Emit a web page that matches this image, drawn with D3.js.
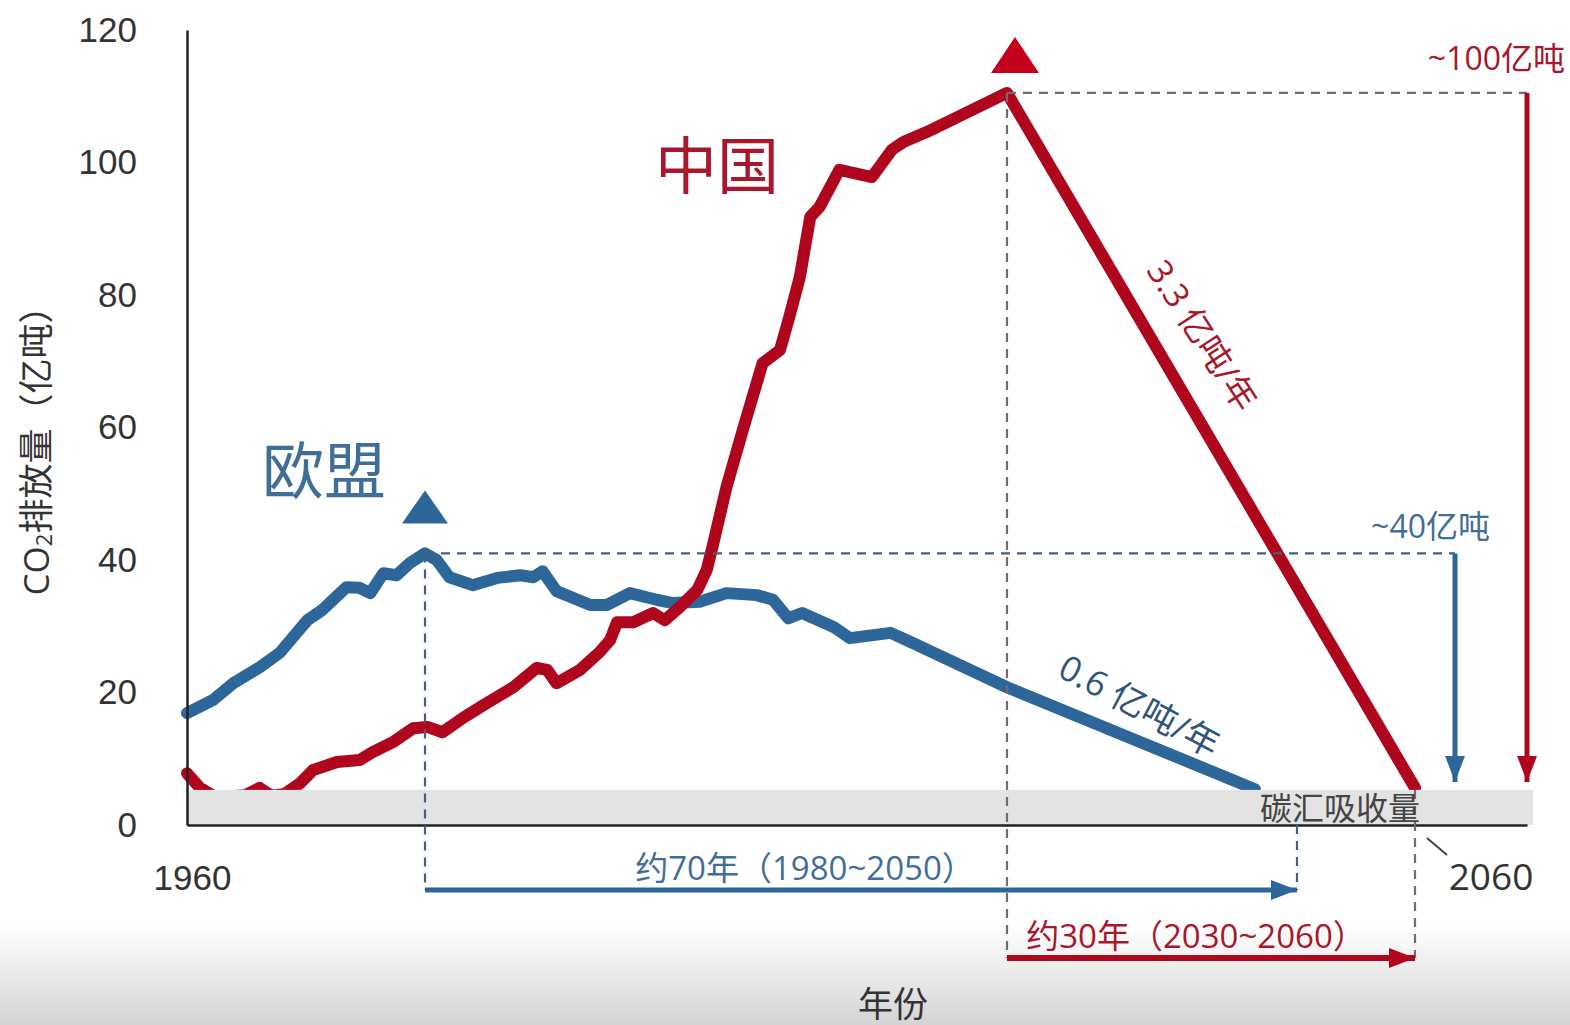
<!DOCTYPE html>
<html>
<head>
<meta charset="utf-8">
<title>中国与欧盟碳达峰到碳中和路径</title>
<script src="https://d3js.org/d3.v7.min.js"></script>
<style>
  html, body { margin: 0; padding: 0; background: #fff; overflow: hidden; }
  svg { display: block; font-family: "Open Sans", "Noto Sans CJK SC", sans-serif; }
  .axis .tick text { font-size: 35px; fill: #333; }
  .axis path { stroke: #222; stroke-width: 2.5px; }
</style>
</head>
<body>
<svg id="chart" width="1570" height="1025"></svg>
<script>
// ---- data (亿吨 CO2 per year) ----
const euYears = [1960, 1962.2, 1963.9, 1966.1, 1967.8, 1970.1, 1971.4, 1973.4, 1974.5, 1975.4,
  1976.5, 1977.6, 1978.7, 1980, 1981, 1982.1, 1984.1, 1986.2, 1988.2, 1989.3,
  1990.1, 1991.3, 1994.2, 1995.6, 1997.6, 1999.9, 2001.3, 2003.6, 2005.9, 2008.5,
  2009.9, 2011.2, 2012.4, 2015.1, 2016.5, 2020, 2021.4, 2030, 2047.1];
const euValues = [16.9, 18.9, 21.4, 23.8, 26.0, 30.9, 32.5, 35.9, 35.8, 35.0,
  38.0, 37.7, 39.5, 41.0, 40.0, 37.4, 36.2, 37.3, 37.7, 37.4,
  38.3, 35.3, 33.2, 33.2, 35.0, 34.0, 33.5, 33.7, 35.0, 34.7,
  34.0, 31.2, 32.0, 29.9, 28.2, 29.0, 27.9, 20.8, 5.4];

const cnYears = [1960, 1961.1, 1962.4, 1964.9, 1966.1, 1967.1, 1968.2, 1969.5, 1970.6, 1972.6,
  1974.5, 1975.6, 1977.3, 1979, 1980.2, 1981.5, 1983.3, 1985.3, 1987.6, 1989.6,
  1990.5, 1991.3, 1993.3, 1995, 1995.9, 1996.5, 1997.9, 1999.6, 2000.6, 2001.9,
  2003.4, 2004.2, 2004.7, 2005.9, 2007.3, 2009, 2010.5, 2011.3, 2012.2, 2013.1,
  2013.9, 2015.6, 2018.4, 2020.1, 2021.1, 2023.1, 2030, 2060];
const cnValues = [7.8, 5.6, 4.2, 4.5, 5.6, 4.4, 4.7, 6.3, 8.3, 9.5,
  9.8, 11.0, 12.5, 14.6, 14.8, 14.0, 16.2, 18.4, 20.8, 23.7,
  23.4, 21.4, 23.4, 26.1, 27.9, 30.6, 30.6, 32.0, 30.9, 32.9,
  35.5, 38.5, 42.0, 51.0, 59.6, 69.7, 71.7, 76.7, 82.7, 91.8,
  93.3, 98.9, 97.8, 101.9, 103.1, 104.6, 110.5, 5.6];

const yTicks = [0, 20, 40, 60, 80, 100, 120];
const xTicks = [1960];
const sinkValue = 5.3;            // 碳汇吸收量
const euSpan = [1980, 2050];      // 约70年
const cnSpan = [2030, 2060];      // 约30年

// ---- colours ----
const EU = "#2d6698", EU_TXT = "#3f6e98", CN = "#b0061d", CN_TXT = "#a8172c";
const DASH_EU = "#46607c", DASH_CN = "#7d6670";

const svg = d3.select("#chart");

const x = d3.scaleLinear()
  .domain([1960, 1980, 2030, 2050, 2060, 2070])
  .range([187, 425, 1007, 1297, 1415, 1527]);
const y = d3.scaleLinear().domain([0, 120]).range([825, 30]);

// bottom haze of the original frame
const defs = svg.append("defs");
const grad = defs.append("linearGradient").attr("id", "haze").attr("x1", 0).attr("x2", 0).attr("y1", 0).attr("y2", 1);
grad.append("stop").attr("offset", "0%").attr("stop-color", "#fff");
grad.append("stop").attr("offset", "100%").attr("stop-color", "#d4d4d4");
svg.append("rect").attr("x", 0).attr("y", 925).attr("width", 1570).attr("height", 100).attr("fill", "url(#haze)");

function arrowMarker(id, color, len, wid) {
  defs.append("marker").attr("id", id)
    .attr("markerUnits", "userSpaceOnUse")
    .attr("viewBox", `0 ${-wid / 2} ${len} ${wid}`)
    .attr("refX", len).attr("refY", 0)
    .attr("markerWidth", len).attr("markerHeight", wid)
    .attr("orient", "auto")
    .append("path").attr("d", `M0,${-wid / 2}L${len},0L0,${wid / 2}Z`).attr("fill", color);
}
arrowMarker("arrEU", EU, 26, 20);
arrowMarker("arrCN", CN, 26, 20);

const line = d3.line().x(d => x(d[0])).y(d => y(d[1]));
const euData = d3.zip(euYears, euValues);
const cnData = d3.zip(cnYears, cnValues);

const euPeak = euData[d3.maxIndex(euValues)];
const cnPeak = cnData[d3.maxIndex(cnValues)];

// ---- series ----
svg.append("path").datum(euData).attr("d", line)
  .attr("fill", "none").attr("stroke", EU).attr("stroke-width", 12)
  .attr("stroke-linejoin", "round").attr("stroke-linecap", "round");
svg.append("path").datum(cnData).attr("d", line)
  .attr("fill", "none").attr("stroke", CN).attr("stroke-width", 12)
  .attr("stroke-linejoin", "round").attr("stroke-linecap", "round");

// carbon sink band sits over the lines
svg.append("rect")
  .attr("x", x(1960)).attr("y", y(sinkValue))
  .attr("width", x(2070) - x(1960) + 6).attr("height", y(0) - y(sinkValue))
  .attr("fill", "#e3e3e3");

// ---- axes ----
svg.append("g").attr("class", "axis").attr("transform", `translate(${x(1960)},0)`)
  .call(d3.axisLeft(y).tickValues(yTicks).tickSize(0).tickPadding(50));
svg.append("g").attr("class", "axis").attr("transform", `translate(0,${y(0)})`)
  .call(d3.axisBottom(x).tickValues(xTicks).tickSize(0).tickPadding(40).tickFormat(d3.format("d")))
  .selectAll(".tick text").attr("dx", 5).attr("font-size", 37);

// ---- guide lines ----
const ARROW_EU_X = 1455, ARROW_CN_X = 1527, SPAN_EU_Y = 890, SPAN_CN_Y = 958;

function dashed(x1, y1, x2, y2, color) {
  svg.append("line").attr("x1", x1).attr("y1", y1).attr("x2", x2).attr("y2", y2)
    .attr("stroke", color).attr("stroke-width", 2.2).attr("stroke-dasharray", "9,7");
}
dashed(x(euPeak[0]), y(euPeak[1]), ARROW_EU_X, y(euPeak[1]), DASH_EU);
dashed(x(euPeak[0]), y(euPeak[1]), x(euPeak[0]), SPAN_EU_Y, DASH_EU);
dashed(x(euSpan[1]), y(0), x(euSpan[1]), SPAN_EU_Y, DASH_EU);
dashed(x(cnPeak[0]), y(cnPeak[1]), ARROW_CN_X, y(cnPeak[1]), DASH_CN);
dashed(x(cnPeak[0]), y(cnPeak[1]), x(cnPeak[0]), SPAN_CN_Y, DASH_CN);
dashed(x(cnSpan[1]), y(sinkValue), x(cnSpan[1]), SPAN_CN_Y, DASH_CN);

// ---- arrows ----
function arrow(x1, y1, x2, y2, color, marker, w) {
  svg.append("line").attr("x1", x1).attr("y1", y1).attr("x2", x2).attr("y2", y2)
    .attr("stroke", color).attr("stroke-width", w).attr("marker-end", `url(#${marker})`);
}
arrow(x(euSpan[0]), SPAN_EU_Y, x(euSpan[1]), SPAN_EU_Y, EU, "arrEU", 5);
arrow(x(cnSpan[0]), SPAN_CN_Y, x(cnSpan[1]), SPAN_CN_Y, CN, "arrCN", 6);
arrow(ARROW_EU_X, y(euPeak[1]), ARROW_EU_X, y(sinkValue) - 8, EU, "arrEU", 5);
arrow(ARROW_CN_X, y(cnPeak[1]), ARROW_CN_X, y(sinkValue) - 8, CN, "arrCN", 5);

// ---- peak triangles ----
function triangle(cx, baseY, w, h, color) {
  svg.append("path")
    .attr("d", `M${cx - w / 2},${baseY}L${cx},${baseY - h}L${cx + w / 2},${baseY}Z`)
    .attr("fill", color);
}
triangle(x(euPeak[0]), y(euPeak[1]) - 30, 46, 33, EU);
triangle(x(cnPeak[0]) + 8, y(cnPeak[1]) - 20, 48, 36, "#c5001c");

// ---- text ----
function label(txt, px, py, size, color, anchor = "start", rot = 0) {
  return svg.append("text")
    .attr("transform", `translate(${px},${py}) rotate(${rot})`)
    .attr("text-anchor", anchor).attr("dominant-baseline", "central")
    .attr("font-size", size).attr("fill", color).text(txt);
}
label("欧盟", 262, 470, 62, EU_TXT);
label("中国", 655, 165, 62, CN_TXT);
label("3.3 亿吨/年", 1203, 335, 34, CN_TXT, "middle", 57);
label("0.6 亿吨/年", 1140, 705, 35, "#2f557a", "middle", 28);
label("~100亿吨", 1565, 57, 32, CN_TXT, "end");
label("~40亿吨", 1490, 525, 32, EU_TXT, "end");
label("碳汇吸收量", 1420, 807, 32, "#444", "end");
label("约70年（1980~2050）", 805, 867, 33, EU_TXT, "middle");
label("约30年（2030~2060）", 1196, 935, 33, CN_TXT, "middle");
label("年份", 893, 1003, 35, "#333", "middle");
label("2060", 1491, 875, 37, "#333", "middle");
svg.append("line").attr("x1", 1427).attr("y1", 838).attr("x2", 1447).attr("y2", 855)
  .attr("stroke", "#444").attr("stroke-width", 2);

const yTitle = svg.append("text")
  .attr("transform", "translate(35,442) rotate(-90)")
  .attr("text-anchor", "middle").attr("dominant-baseline", "central")
  .attr("font-size", 35).attr("fill", "#333");
yTitle.append("tspan").text("CO");
yTitle.append("tspan").attr("font-size", 22).attr("dy", 8).text("2");
yTitle.append("tspan").attr("dy", -8).text("排放量（亿吨）");
</script>
</body>
</html>
